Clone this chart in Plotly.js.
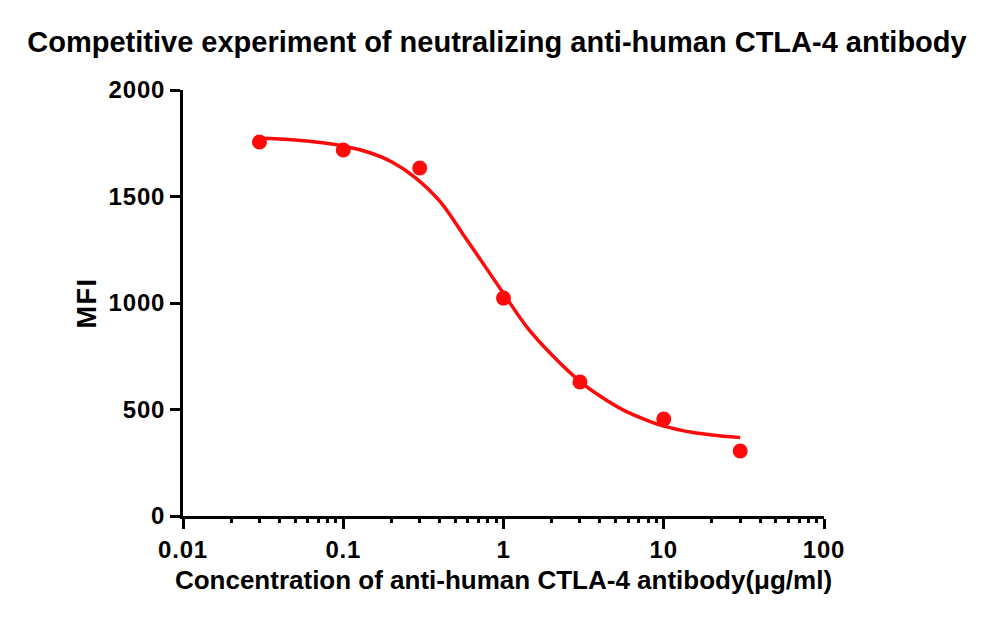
<!DOCTYPE html>
<html>
<head>
<meta charset="utf-8">
<script src="https://cdn.plot.ly/plotly-3.0.1.min.js"></script>
<style>
html,body{margin:0;padding:0;background:#fff}
#chart{width:1000px;height:620px}
#chart .xtick text, #chart .ytick text{letter-spacing:0.8px}
#chart .ytitle{letter-spacing:1.5px}
</style>
</head>
<body>
<div id="chart"></div>
<script>
// Measured data points
const concentration = [0.03, 0.1, 0.3, 1, 3, 10, 30];
const mfi = [1756, 1718, 1634, 1023, 629, 455, 305];

// Fitted curve
const fitX = [0.03, 0.05, 0.1, 0.15, 0.2, 0.28, 0.4, 0.56, 0.8, 1, 1.4, 2, 3, 4, 5.6, 8, 10, 15, 20, 30];
const fitY = [1773, 1765, 1737, 1703, 1663, 1590, 1478, 1322, 1152, 1045, 887, 757, 632, 563, 497, 447, 422, 393, 380, 368];

// Tick labels
const majorTicks = [0.01, 0.1, 1, 10, 100];
const majorLabels = ["0.01", "0.1", "1", "10", "100"];
const yTicks = [0, 500, 1000, 1500, 2000];
const minorTicks = [];
[0.01, 0.1, 1, 10].forEach(d => { for (let k = 2; k <= 9; k++) minorTicks.push(+(d * k).toPrecision(3)); });

const red = "#ff0a0a";
const fnt = "Liberation Sans, Arial, sans-serif";

const traces = [
  {x: fitX, y: fitY, mode: "lines", line: {color: red, width: 3.5, shape: "spline", smoothing: 1}, hoverinfo: "skip", showlegend: false},
  {x: concentration, y: mfi, mode: "markers", marker: {color: red, size: 15}, showlegend: false},
  {x: [0.01, 100], y: [0, 0], xaxis: "x2", mode: "markers", marker: {opacity: 0}, hoverinfo: "skip", showlegend: false}
];

const layout = {
  width: 1000, height: 620,
  margin: {l: 183, r: 176, t: 90, b: 104},
  paper_bgcolor: "#fff", plot_bgcolor: "rgba(0,0,0,0)",
  font: {family: fnt, color: "#000"},
  title: {text: "<b>Competitive experiment of neutralizing anti-human CTLA-4 antibody</b>",
          font: {size: 29, family: fnt, color: "#000"}, x: 0.497, xanchor: "center", y: 0.932, yanchor: "middle"},
  xaxis: {
    type: "log", range: [-2, 2], showgrid: false, zeroline: false,
    showline: true, linecolor: "#000", linewidth: 3,
    tickmode: "array", tickvals: majorTicks, ticktext: majorLabels,
    ticks: "outside", ticklen: 10, tickwidth: 3, tickcolor: "#000",
    tickfont: {size: 24, family: fnt, weight: "bold"},
    title: {text: "<b>Concentration of anti-human CTLA-4 antibody(μg/ml)</b>", font: {size: 26, family: fnt}, standoff: 10}
  },
  xaxis2: {
    type: "log", range: [-2, 2], overlaying: "x", anchor: "y", side: "bottom",
    showgrid: false, zeroline: false, showline: false,
    tickmode: "array", tickvals: minorTicks, showticklabels: false,
    ticks: "outside", ticklen: 6, tickwidth: 3, tickcolor: "#000"
  },
  yaxis: {
    range: [0, 2000], showgrid: false, zeroline: false,
    showline: true, linecolor: "#000", linewidth: 3,
    tickmode: "array", tickvals: yTicks,
    ticks: "outside", ticklen: 10, tickwidth: 3, tickcolor: "#000",
    tickfont: {size: 24, family: fnt, weight: "bold"},
    title: {text: "<b>MFI</b>", font: {size: 27, family: fnt}, standoff: 8}
  }
};

Plotly.newPlot("chart", traces, layout, {displayModeBar: false, staticPlot: true});
</script>
</body>
</html>
